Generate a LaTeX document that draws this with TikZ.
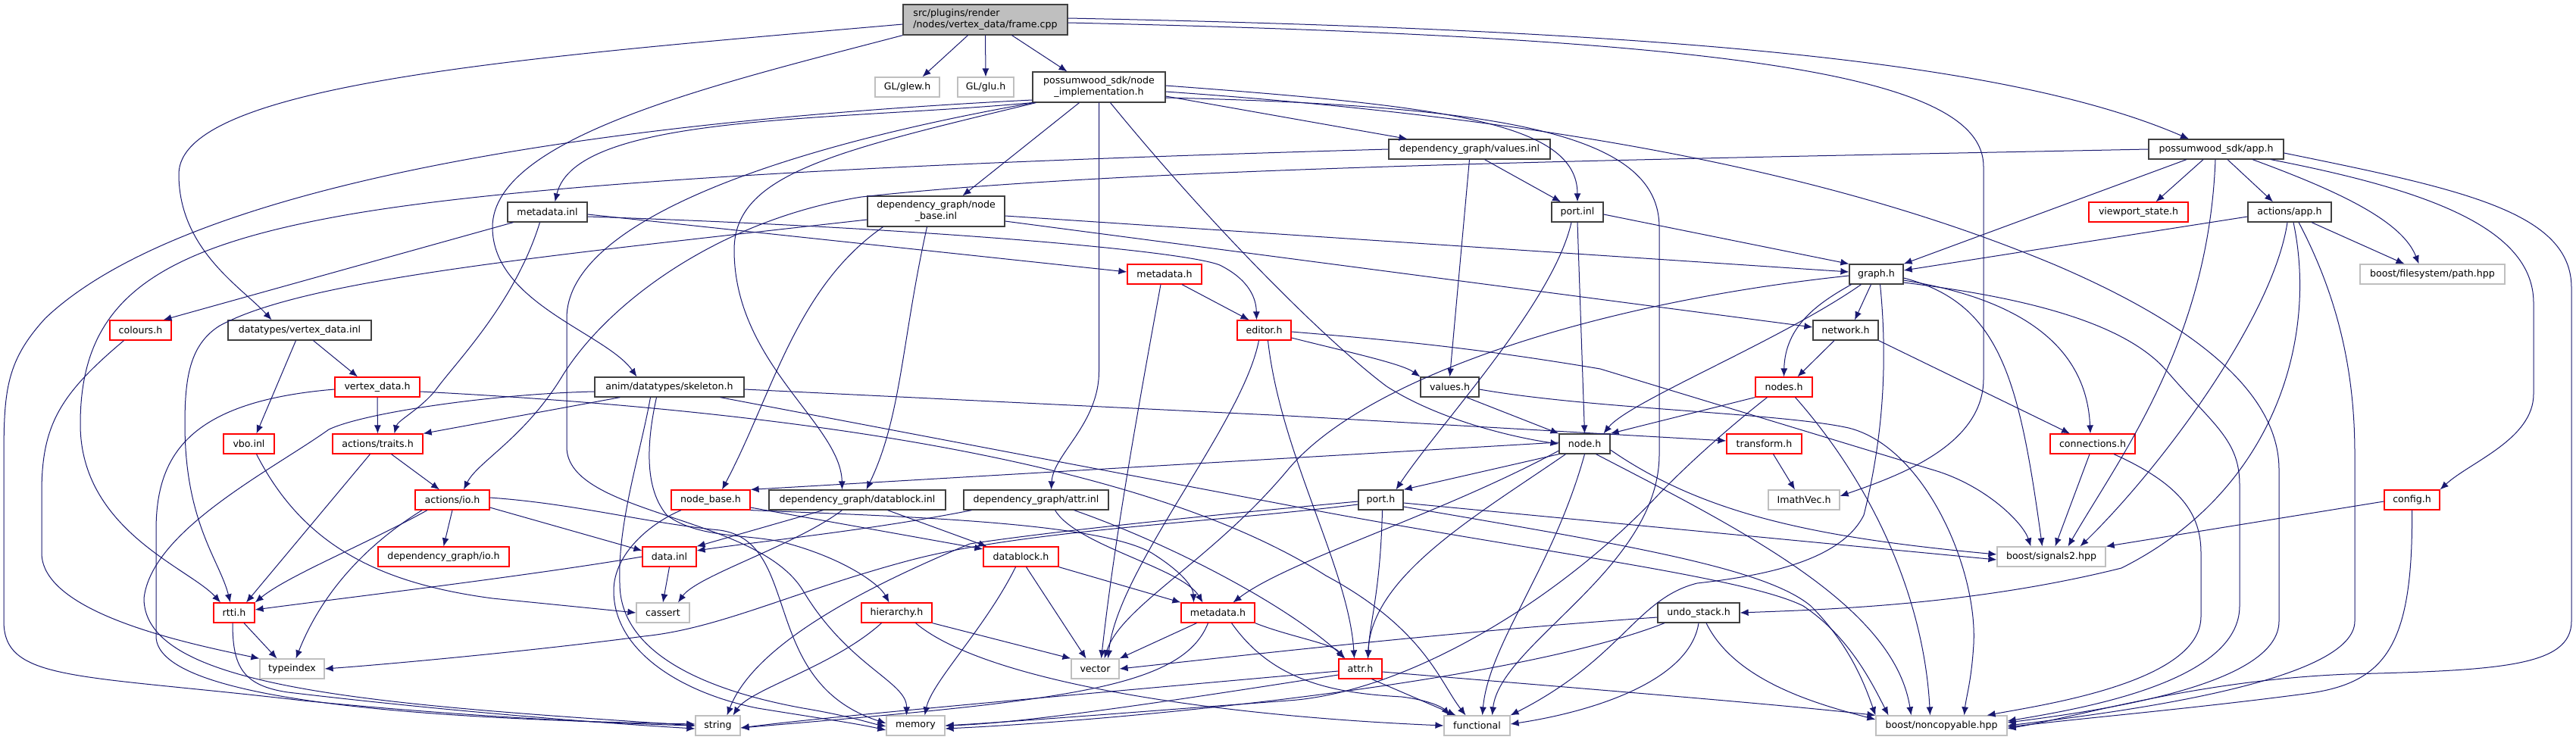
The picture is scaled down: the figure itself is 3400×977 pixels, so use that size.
\documentclass[tikz,border=0pt]{standalone}
\usepackage{fontspec}
\newfontfamily\dv{DejaVu Sans}
\usetikzlibrary{arrows.meta}
\definecolor{edgec}{HTML}{191970}
\definecolor{rd}{HTML}{FF0000}
\definecolor{gy}{HTML}{BFBFBF}
\definecolor{bk}{HTML}{404040}
\begin{document}
\begin{tikzpicture}[x=1pt,y=1pt,
  bx/.style={rectangle, inner sep=0pt, minimum height=26pt, line width=1.2pt, fill=white, font=\dv\fontsize{12.6}{15}\selectfont, text=black},
  nb/.style={bx, draw=bk},
  nr/.style={bx, draw=rd},
  ng/.style={bx, draw=gy},
  nt/.style={bx, draw=bk, fill=gy},
  e/.style={draw=edgec, line width=1.0pt, -{Latex[length=11pt,width=9pt]}}]
\fill[white] (0,0) rectangle (3400,-977);
\path[use as bounding box] (0,0) rectangle (3400,-977);
% nodes
\node[nt,minimum width=217pt,minimum height=40pt,align=left] (frame) at (1300.5,-26) {src/plugins/render\\/nodes/vertex\_data/frame.cpp};
\node[ng,minimum width=85pt] (glew) at (1197.5,-115) {GL/glew.h};
\node[ng,minimum width=74pt] (glu) at (1301,-115) {GL/glu.h};
\node[nb,minimum width=175pt,minimum height=40pt,align=center] (nimpl) at (1450.5,-115) {possumwood\_sdk/node\\\_implementation.h};
\node[nb,minimum width=213pt] (valinl) at (1939.5,-197) {dependency\_graph/values.inl};
\node[nb,minimum width=178pt] (apph) at (2925,-197) {possumwood\_sdk/app.h};
\node[nb,minimum width=105pt] (mdinl) at (722.5,-280) {metadata.inl};
\node[nb,minimum width=181pt,minimum height=40pt,align=center] (nbinl) at (1235.5,-279) {dependency\_graph/node\\\_base.inl};
\node[nb,minimum width=68pt] (portinl) at (2082,-280) {port.inl};
\node[nr,minimum width=131pt] (viewport) at (2822.5,-280) {viewport\_state.h};
\node[nb,minimum width=110pt] (actapp) at (3022,-280) {actions/app.h};
\node[nr,minimum width=98pt] (mdh) at (1537,-362) {metadata.h};
\node[nb,minimum width=71pt] (graph) at (2476.5,-362) {graph.h};
\node[ng,minimum width=191pt] (path) at (3210.5,-362) {boost/filesystem/path.hpp};
\node[nr,minimum width=81pt] (colours) at (185.5,-436) {colours.h};
\node[nb,minimum width=189pt] (vdinl) at (395.5,-436) {datatypes/vertex\_data.inl};
\node[nr,minimum width=71pt] (editor) at (1668.5,-436) {editor.h};
\node[nb,minimum width=86pt] (network) at (2436,-436) {network.h};
\node[nr,minimum width=112pt] (vdh) at (498,-511) {vertex\_data.h};
\node[nb,minimum width=197pt] (skel) at (883.5,-511) {anim/datatypes/skeleton.h};
\node[nb,minimum width=77pt] (valh) at (1913.5,-511) {values.h};
\node[nr,minimum width=75pt] (nodes) at (2354.5,-511) {nodes.h};
\node[nr,minimum width=67pt] (vbo) at (328.5,-586) {vbo.inl};
\node[nr,minimum width=119pt] (traits) at (498.5,-586) {actions/traits.h};
\node[nb,minimum width=67pt] (nodeh) at (2091.5,-586) {node.h};
\node[nr,minimum width=99pt] (transform) at (2328.5,-586) {transform.h};
\node[nr,minimum width=112pt] (conn) at (2762,-586) {connections.h};
\node[nr,minimum width=98pt] (actio) at (597,-660) {actions/io.h};
\node[nr,minimum width=104pt] (nbh) at (938,-660) {node\_base.h};
\node[nb,minimum width=233pt] (dbinl) at (1131.5,-660) {dependency\_graph/datablock.inl};
\node[nb,minimum width=191pt] (attrinl) at (1367.5,-660) {dependency\_graph/attr.inl};
\node[nb,minimum width=59pt] (porth) at (1822.5,-660) {port.h};
\node[ng,minimum width=94pt] (imath) at (2381,-660) {ImathVec.h};
\node[nr,minimum width=73pt] (config) at (3183.5,-660) {config.h};
\node[nr,minimum width=173pt] (dgio) at (585.5,-735) {dependency\_graph/io.h};
\node[nr,minimum width=71pt] (datainl) at (883.5,-735) {data.inl};
\node[nr,minimum width=99pt] (dbh) at (1347.5,-735) {datablock.h};
\node[ng,minimum width=143pt] (sig2) at (2707.5,-735) {boost/signals2.hpp};
\node[nr,minimum width=54pt] (rtti) at (309,-809) {rtti.h};
\node[ng,minimum width=70pt] (cassert) at (875,-809) {cassert};
\node[nr,minimum width=93pt] (hier) at (1183.5,-809) {hierarchy.h};
\node[nr,minimum width=97pt] (mdh2) at (1607.5,-809) {metadata.h};
\node[nb,minimum width=108pt] (undo) at (2242,-809) {undo\_stack.h};
\node[ng,minimum width=85pt] (typeindex) at (385.5,-883) {typeindex};
\node[ng,minimum width=63pt] (vector) at (1445.5,-883) {vector};
\node[nr,minimum width=57pt] (attrh) at (1795.5,-883) {attr.h};
\node[ng,minimum width=59pt] (string) at (947.5,-958) {string};
\node[ng,minimum width=77pt] (memory) at (1208.5,-958) {memory};
\node[ng,minimum width=87pt] (functional) at (1949.5,-958) {functional};
\node[ng,minimum width=173pt] (noncopy) at (2562.5,-958) {boost/noncopyable.hpp};
% frame.cpp
\draw[e] ([xshift=-23]frame.south) -- ([xshift=20]glew.north);
\draw[e] (frame.south) -- (glu.north);
\draw[e] ([xshift=35]frame.south) -- ([xshift=-42]nimpl.north);
\draw[e] ([yshift=-6]frame.west) .. controls (700,-75) and (236,-110) .. (236,-230) .. controls (236,-330) and (320,-380) .. ([xshift=-37]vdinl.north);
\draw[e] (frame.south west) .. controls (950,-110) and (650,-180) .. (650,-300) .. controls (650,-400) and (800,-440) .. ([xshift=-43]skel.north);
\draw[e] ([yshift=2]frame.east) .. controls (2200,-40) and (2650,-80) .. ([xshift=-36]apph.north);
\draw[e] ([yshift=-4]frame.east) .. controls (2300,-50) and (2618,-100) .. (2618,-220) -- (2618,-500) .. controls (2618,-590) and (2500,-630) .. ([yshift=5]imath.east);
% node_implementation.h
\draw[e] ([yshift=-12]nimpl.east) -- ([xshift=-82]valinl.north);
\draw[e] ([yshift=2]nimpl.east) .. controls (1900,-140) and (2082,-160) .. (portinl.north);
\draw[e] ([xshift=-26]nimpl.south) -- ([xshift=35]nbinl.north);
\draw[e] (nimpl.south west) .. controls (1100,-160) and (760,-150) .. ([xshift=10]mdinl.north);
\draw[e] ([yshift=-17]nimpl.west) .. controls (800,-160) and (250,-240) .. (60,-420) .. controls (5,-480) and (5,-520) .. (5,-620) -- (5,-820) .. controls (5,-900) and (100,-890) .. (400,-925) .. controls (600,-945) and (800,-955) .. (string.west);
\draw[e] ([xshift=15]nimpl.south) .. controls (1600,-300) and (1750,-450) .. (1830,-510) .. controls (1900,-555) and (2000,-578) .. (nodeh.west);
\draw[e] ([xshift=5]nimpl.south west) .. controls (1100,-200) and (969,-230) .. (969,-330) .. controls (969,-480) and (1110,-560) .. ([xshift=-20]dbinl.north);
\draw[e] ([xshift=2]nimpl.south west) .. controls (1000,-200) and (748,-300) .. (748,-420) -- (748,-590) .. controls (748,-680) and (1000,-680) .. (1060,-780) .. controls (1120,-880) and (1197,-900) .. ([xshift=-12]memory.north);
\draw[e] (nimpl.south) -- (1450.5,-490) .. controls (1450.5,-560) and (1390,-600) .. ([xshift=20]attrinl.north);
\draw[e] ([yshift=-14]nimpl.east) .. controls (2000,-140) and (2190,-180) .. (2190,-300) -- (2190,-600) .. controls (2190,-750) and (1980,-850) .. ([xshift=20]functional.north);
\draw[e] ([yshift=-6]nimpl.east) .. controls (2100,-160) and (2450,-240) .. (2713,-350) .. controls (2900,-430) and (3008,-520) .. (3008,-620) -- (3008,-820) .. controls (3008,-900) and (2800,-935) .. ([yshift=4]noncopy.east);
% values.inl
\draw[e] ([xshift=20]valinl.south) -- ([xshift=-22]portinl.north);
\draw[e] (valinl.south) -- (valh.north);
\draw[e] (valinl.west) .. controls (1200,-215) and (700,-240) .. (450,-285) .. controls (200,-330) and (106,-400) .. (106,-560) .. controls (106,-700) and (250,-750) .. ([xshift=-18]rtti.north);
% port.inl
\draw[e] ([yshift=-3]portinl.east) -- (graph.north west);
\draw[e] (portinl.south) -- (nodeh.north);
\draw[e] ([xshift=-8]portinl.south) .. controls (2050,-400) and (1900,-560) .. ([xshift=20]porth.north);
% node_base.inl
\draw[e] ([xshift=-70]nbinl.south) .. controls (1050,-380) and (1020,-520) .. ([xshift=15]nbh.north);
\draw[e] ([xshift=-12]nbinl.south) .. controls (1190,-450) and (1190,-550) .. ([xshift=12]dbinl.north);
\draw[e] ([yshift=-6]nbinl.east) -- ([yshift=3]graph.west);
\draw[e] ([yshift=-13]nbinl.east) -- ([yshift=4]network.west);
\draw[e] ([yshift=-11]nbinl.west) .. controls (700,-340) and (400,-370) .. (290,-430) .. controls (250,-455) and (244,-500) .. (244,-560) .. controls (244,-690) and (290,-740) .. ([xshift=-5]rtti.north);
% metadata.inl
\draw[e] ([yshift=-3]mdinl.east) -- ([yshift=3]mdh.west);
\draw[e] ([yshift=-6]mdinl.east) .. controls (1200,-300) and (1560,-330) .. (1610,-350) .. controls (1650,-370) and (1658,-395) .. ([xshift=-10]editor.north);
\draw[e] ([xshift=-45]mdinl.south) -- ([xshift=30]colours.north);
\draw[e] ([xshift=-10]mdinl.south) .. controls (680,-400) and (600,-480) .. (575,-515) .. controls (555,-540) and (525,-555) .. ([xshift=22]traits.north);
% metadata.h
\draw[e] ([xshift=23]mdh.south) -- ([xshift=-20]editor.north);
\draw[e] ([xshift=-5]mdh.south) .. controls (1500,-550) and (1470,-720) .. ([xshift=8]vector.north);
% editor.h
\draw[e] ([yshift=-10]editor.east) .. controls (1780,-465) and (1850,-480) .. (valh.north west);
\draw[e] ([xshift=5]editor.south) .. controls (1690,-600) and (1780,-750) .. ([xshift=-8]attrh.north);
\draw[e] ([xshift=-7]editor.south) .. controls (1640,-560) and (1475,-750) .. ([xshift=17]vector.north);
\draw[e] ([yshift=-2]editor.east) .. controls (1850,-450) and (1950,-460) .. (2112,-487) -- (2550,-620) .. controls (2620,-640) and (2670,-690) .. ([xshift=-27]sig2.north);
% graph.h
\draw[e] ([xshift=-7]graph.south) -- ([xshift=12]network.north);
\draw[e] ([xshift=-33]graph.south) .. controls (2400,-400) and (2356,-430) .. (nodes.north);
\draw[e] ([xshift=-20]graph.south) .. controls (2350,-450) and (2150,-530) .. ([xshift=25]nodeh.north);
\draw[e] ([xshift=5]graph.south) .. controls (2492,-480) and (2485,-580) .. (2460,-680) .. controls (2430,-740) and (2330,-760) .. (2240,-770) .. controls (2160,-790) and (2140,-870) .. (functional.north east);
\draw[e] ([yshift=-5]graph.east) .. controls (2640,-400) and (2665,-500) .. ([xshift=-12]sig2.north);
\draw[e] ([yshift=-8]graph.east) .. controls (2700,-400) and (2755,-480) .. ([xshift=-3]conn.north);
\draw[e] ([yshift=-11]graph.east) .. controls (2650,-390) and (2800,-420) .. (2860,-490) .. controls (2920,-560) and (2956,-580) .. (2956,-640) -- (2956,-800) .. controls (2956,-900) and (2750,-935) .. ([yshift=6]noncopy.east);
\draw[e] ([yshift=-2]graph.west) .. controls (2100,-400) and (1800,-500) .. (1700,-620) .. controls (1600,-740) and (1480,-800) .. ([xshift=12]vector.north);
% network.h
\draw[e] ([xshift=-15]network.south) -- ([xshift=18]nodes.north);
\draw[e] (network.south east) -- ([xshift=-30]conn.north);
% nodes.h
\draw[e] (nodes.south west) -- (nodeh.north east);
\draw[e] ([xshift=15]nodes.south) .. controls (2480,-650) and (2540,-800) .. ([xshift=-15]noncopy.north);
\draw[e] ([xshift=-22]nodes.south) .. controls (2300,-550) and (2240,-600) .. (2188,-654) .. controls (2050,-800) and (1850,-915) .. (1700,-925) .. controls (1500,-940) and (1350,-952) .. (memory.east);
% connections.h
\draw[e] ([xshift=-4]conn.south) -- ([xshift=5]sig2.north);
\draw[e] ([xshift=28]conn.south) .. controls (2880,-640) and (2905,-680) .. (2905,-730) -- (2905,-814) .. controls (2905,-900) and (2700,-930) .. ([xshift=60]noncopy.north);
% node.h
\draw[e] (nodeh.south west) -- (porth.north east);
\draw[e] ([yshift=2]nodeh.west) -- (nbh.north east);
\draw[e] ([yshift=-9]nodeh.west) .. controls (1900,-680) and (1700,-740) .. ([xshift=20]mdh2.north);
\draw[e] ([xshift=-25]nodeh.south) .. controls (1950,-680) and (1810,-760) .. ([xshift=10]attrh.north);
\draw[e] (nodeh.south) .. controls (2050,-750) and (1965,-850) .. ([xshift=7]functional.north);
\draw[e] ([xshift=15]nodeh.south) .. controls (2300,-700) and (2500,-800) .. ([xshift=-40]noncopy.north);
\draw[e] ([yshift=-8]nodeh.east) .. controls (2250,-680) and (2400,-710) .. ([yshift=3]sig2.west);
% port.h
\draw[e] ([xshift=2]porth.south) .. controls (1822,-780) and (1808,-820) .. ([xshift=10]attrh.north);
\draw[e] ([yshift=-4]porth.east) -- ([yshift=-4]sig2.west);
\draw[e] ([yshift=-9]porth.east) .. controls (2150,-720) and (2330,-750) .. (2390,-800) .. controls (2440,-850) and (2460,-900) .. (noncopy.north west);
\draw[e] ([yshift=-2]porth.west) .. controls (1600,-680) and (1400,-700) .. (1280,-718) .. controls (1180,-760) and (1000,-840) .. ([xshift=12]string.north);
\draw[e] ([yshift=-6]porth.west) .. controls (1600,-690) and (1350,-700) .. (1200,-740) .. controls (1050,-780) and (950,-830) .. (850,-840) .. controls (700,-860) and (500,-878) .. (typeindex.east);
% attr.h
\draw[e] ([yshift=-3]attrh.west) .. controls (1500,-910) and (1100,-945) .. ([yshift=-3]string.east);
\draw[e] ([yshift=-8]attrh.west) .. controls (1550,-925) and (1350,-955) .. (memory.east);
\draw[e] ([xshift=15]attrh.south) -- ([xshift=-28]functional.north);
\draw[e] ([yshift=-4]attrh.east) .. controls (2100,-910) and (2350,-930) .. (noncopy.north west);
% attr.inl
\draw[e] ([xshift=50]attrinl.south) .. controls (1550,-720) and (1700,-800) .. ([xshift=-20]attrh.north);
\draw[e] ([xshift=-85]attrinl.south) .. controls (1150,-700) and (1000,-715) .. ([yshift=8]datainl.east);
\draw[e] ([xshift=25]attrinl.south) .. controls (1420,-720) and (1560,-750) .. ([xshift=-20]mdh2.north);
% datablock.inl
\draw[e] ([xshift=-45]dbinl.south) -- (datainl.north east);
\draw[e] ([xshift=-20]dbinl.south) .. controls (1050,-720) and (920,-760) .. ([xshift=20]cassert.north);
\draw[e] ([xshift=40]dbinl.south) -- ([xshift=-45]dbh.north);
% data.inl
\draw[e] (datainl.south) -- (cassert.north);
\draw[e] (datainl.west) .. controls (700,-760) and (450,-790) .. ([yshift=4]rtti.east);
% datablock.h
\draw[e] (dbh.south east) -- (mdh2.north west);
\draw[e] ([xshift=7]dbh.south) -- ([xshift=-12]vector.north);
\draw[e] ([xshift=-7]dbh.south) .. controls (1300,-830) and (1230,-900) .. ([xshift=12]memory.north);
% metadata.h (2)
\draw[e] ([xshift=-28]mdh2.south) -- (vector.north east);
\draw[e] ([xshift=-13]mdh2.south) .. controls (1560,-910) and (1400,-925) .. ([yshift=-3]string.east);
\draw[e] ([xshift=18]mdh2.south) .. controls (1680,-900) and (1760,-915) .. (1850,-920) .. controls (1890,-925) and (1905,-935) .. ([xshift=-36]functional.north);
\draw[e] (mdh2.south east) .. controls (1700,-840) and (1760,-850) .. ([xshift=-22]attrh.north);
% hierarchy.h
\draw[e] ([xshift=-20]hier.south) .. controls (1100,-880) and (990,-910) .. ([xshift=20]string.north);
\draw[e] (hier.south east) -- (vector.north west);
\draw[e] ([xshift=25]hier.south) .. controls (1300,-900) and (1600,-945) .. (functional.west);
% node_base.h
\draw[e] ([yshift=-10]nbh.east) -- ([yshift=10]dbh.west);
\draw[e] (nbh.south east) .. controls (1200,-682) and (1450,-690) .. (1520,-730) .. controls (1560,-755) and (1575,-775) .. ([xshift=-32]mdh2.north);
\draw[e] ([xshift=-39]nbh.south) .. controls (860,-690) and (810,-730) .. (810,-780) .. controls (810,-860) and (900,-915) .. (1000,-935) .. controls (1080,-948) and (1130,-955) .. ([yshift=-6]memory.west);
% skeleton.h
\draw[e] ([xshift=-65]skel.south) -- (traits.north east);
\draw[e] ([yshift=-3]skel.east) -- (1700,-549) -- ([yshift=4]transform.west);
\draw[e] ([yshift=-6]skel.west) .. controls (650,-520) and (480,-545) .. (434,-567) .. controls (360,-620) and (200,-700) .. (190,-790) .. controls (190,-910) and (500,-930) .. (string.west);
\draw[e] ([xshift=-17]skel.south) .. controls (850,-600) and (855,-650) .. (880,-680) .. controls (920,-710) and (980,-705) .. (1030,-715) .. controls (1110,-735) and (1160,-770) .. ([xshift=-10]hier.north);
\draw[e] ([xshift=-25]skel.south) .. controls (845,-600) and (815,-690) .. (818,-770) .. controls (818,-870) and (950,-915) .. (1060,-935) .. controls (1120,-945) and (1150,-955) .. ([yshift=-1]memory.west);
\draw[e] ([xshift=67]skel.south) -- (1700,-667) .. controls (2000,-725) and (2300,-760) .. (2380,-800) .. controls (2440,-840) and (2470,-900) .. ([xshift=-70]noncopy.north);
% vertex_data.h
\draw[e] (vdh.south) -- (traits.north);
\draw[e] ([yshift=-3]vdh.west) .. controls (250,-530) and (206,-600) .. (206,-700) -- (206,-840) .. controls (206,-930) and (600,-950) .. ([yshift=2]string.west);
\draw[e] ([yshift=-6]vdh.east) .. controls (1000,-540) and (1500,-600) .. (1750,-760) .. controls (1880,-830) and (1900,-900) .. ([xshift=-15]functional.north);
% vertex_data.inl
\draw[e] ([xshift=18]vdinl.south) -- ([xshift=-26]vdh.north);
\draw[e] ([xshift=-5]vdinl.south) -- ([xshift=10]vbo.north);
% vbo.inl
\draw[e] ([xshift=10]vbo.south) .. controls (400,-720) and (500,-770) .. (650,-790) .. controls (750,-800) and (800,-805) .. (cassert.west);
% traits.h
\draw[e] ([xshift=18]traits.south) -- ([xshift=-17]actio.north);
\draw[e] ([xshift=-10]traits.south) -- ([xshift=16]rtti.north);
% actions/io.h
\draw[e] (actio.south) -- (dgio.north);
\draw[e] ([xshift=-33]actio.south) .. controls (480,-720) and (380,-760) .. (rtti.north east);
\draw[e] ([xshift=-40]actio.south) .. controls (450,-740) and (410,-820) .. ([xshift=5]typeindex.north);
\draw[e] ([yshift=-10]actio.east) -- ([yshift=8]datainl.west);
\draw[e] ([yshift=3]actio.east) .. controls (760,-665) and (850,-690) .. (950,-700) .. controls (1060,-715) and (1000,-900) .. ([yshift=3]memory.west);
% rtti.h
\draw[e] ([xshift=13]rtti.south) -- ([xshift=-20]typeindex.north);
\draw[e] ([xshift=-2]rtti.south) .. controls (307,-880) and (320,-905) .. (380,-914) .. controls (600,-940) and (800,-955) .. ([yshift=-4]string.west);
% colours.h
\draw[e] ([xshift=-22]colours.south) .. controls (80,-520) and (55,-560) .. (55,-650) -- (55,-730) .. controls (55,-810) and (250,-850) .. (typeindex.north west);
% undo_stack.h
\draw[e] ([yshift=-6]undo.west) .. controls (1900,-835) and (1600,-870) .. (vector.east);
\draw[e] ([xshift=-45]undo.south) .. controls (2000,-900) and (1500,-950) .. ([yshift=-4]memory.east);
\draw[e] (undo.south) .. controls (2230,-900) and (2100,-940) .. ([yshift=2]functional.east);
\draw[e] ([xshift=10]undo.south) .. controls (2290,-900) and (2400,-930) .. ([yshift=8]noncopy.west);
% app.h
\draw[e] ([xshift=-17]apph.south) -- ([xshift=23]viewport.north);
\draw[e] ([xshift=15]apph.south) -- ([xshift=-22]actapp.north);
\draw[e] ([xshift=48]apph.south) .. controls (3080,-250) and (3170,-290) .. ([xshift=-18]path.north);
\draw[e] ([xshift=-39]apph.south) -- (graph.north east);
\draw[e] (apph.west) .. controls (2200,-210) and (1500,-220) .. (1137,-260) .. controls (950,-290) and (800,-400) .. (740,-500) .. controls (690,-580) and (630,-610) .. ([xshift=15]actio.north);
\draw[e] ([xshift=-1]apph.south) .. controls (2915,-450) and (2800,-600) .. ([xshift=22]sig2.north);
\draw[e] ([xshift=72]apph.south) .. controls (3200,-250) and (3344,-300) .. (3344,-400) -- (3344,-520) .. controls (3344,-580) and (3260,-610) .. (config.north east);
\draw[e] ([yshift=-5]apph.east) .. controls (3250,-250) and (3394,-280) .. (3394,-380) -- (3394,-820) .. controls (3394,-880) and (3300,-885) .. (3100,-890) .. controls (2900,-898) and (2750,-945) .. ([yshift=-4]noncopy.east);
% actions/app.h
\draw[e] ([xshift=29]actapp.south) -- ([xshift=-37]path.north);
\draw[e] ([yshift=-6]actapp.west) -- ([yshift=5]graph.east);
\draw[e] ([xshift=-3]actapp.south) .. controls (3000,-420) and (2850,-620) .. ([xshift=38]sig2.north);
\draw[e] ([xshift=5]actapp.south) .. controls (3060,-450) and (3000,-650) .. (2800,-750) .. controls (2600,-800) and (2400,-805) .. (undo.east);
\draw[e] ([xshift=12]actapp.south) .. controls (3090,-400) and (3108,-500) .. (3108,-600) -- (3108,-820) .. controls (3108,-900) and (2800,-940) .. (noncopy.east);
% config.h
\draw[e] ([yshift=-2]config.west) -- (sig2.north east);
\draw[e] (config.south) .. controls (3185,-850) and (3150,-900) .. (3050,-915) .. controls (2900,-935) and (2750,-948) .. ([yshift=-2]noncopy.east);
% transform.h
\draw[e] ([xshift=12]transform.south) -- ([xshift=-12]imath.north);
% values.h
\draw[e] ([xshift=22]valh.south) -- (nodeh.north west);
\draw[e] ([yshift=-3]valh.east) .. controls (2100,-540) and (2350,-545) .. (2440,-565) .. controls (2540,-590) and (2610,-750) .. (2605,-850) .. controls (2602,-900) and (2595,-920) .. ([xshift=30]noncopy.north);
\end{tikzpicture}
\end{document}
